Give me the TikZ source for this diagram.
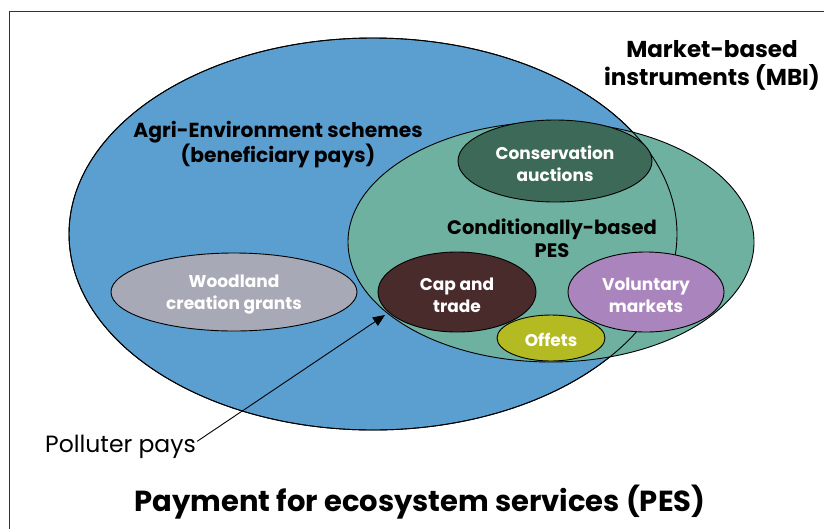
\documentclass[tikz,border=0pt]{standalone}
\usepackage{fontspec}
\setmainfont{Poppins}
\usetikzlibrary{shapes.geometric,arrows.meta}
\definecolor{aesblue}{HTML}{5B9FD0}
\definecolor{pesgreen}{HTML}{6FB1A0}
\definecolor{auctgreen}{HTML}{3D6A58}
\definecolor{woodgrey}{HTML}{A8A9B6}
\definecolor{capbrown}{HTML}{4A2B2C}
\definecolor{volpurple}{HTML}{AA84BC}
\definecolor{offolive}{HTML}{B3BA22}
\tikzset{
  region/.style={ellipse, draw=black, line width=0.9pt, inner sep=0pt},
  instrtext/.style={text=white, align=center, inner sep=0pt, font=\fontsize{17}{22}\selectfont\bfseries},
  head/.style={align=center, text=black, inner sep=0pt}
}
\begin{document}
\begin{tikzpicture}[x=1pt,y=-1pt]
\useasboundingbox (0,0) rectangle (824,528);
% frame
\draw[line width=0.9pt, draw=black!80] (9,540) -- (9,11) -- (840,11);
% outer scheme region
\node[region, fill=aesblue, minimum width=608pt, minimum height=392pt] (aes) at (373,234) {};
\node[region, fill=woodgrey, minimum width=246pt, minimum height=78pt] (wood) at (234,292) {};
% conditional PES region
\node[region, fill=pesgreen, minimum width=406pt, minimum height=240pt] (pes) at (551,242) {};
% outline of the scheme region drawn again over the PES region
\node[region, minimum width=608pt, minimum height=392pt] (aesline) at (373,234) {};
\node[region, fill=auctgreen, minimum width=194pt, minimum height=82pt] (auct) at (555,161) {};
\node[region, fill=capbrown, minimum width=158pt, minimum height=80pt] (cap) at (457,292) {};
\node[region, fill=volpurple, minimum width=156pt, minimum height=80pt] (vol) at (646,292) {};
\node[region, fill=offolive, minimum width=108pt, minimum height=46pt] (off) at (551,338) {};
% instrument labels
\node[instrtext] (woodtxt) at ([yshift=-3pt]wood.center) {Woodland\\creation grants};
\node[instrtext] (aucttxt) at ([yshift=-3pt]auct.center) {Conservation\\auctions};
\node[instrtext] (captxt) at ([yshift=-3pt]cap.center) {Cap and\\trade};
\node[instrtext] (voltxt) at ([yshift=-3pt]vol.center) {Voluntary\\markets};
\node[instrtext] (offtxt) at ([yshift=-2pt]off.center) {Offets};
% headings
\node[head, font=\fontsize{20.3}{24}\selectfont\bfseries] (aeslab) at (278,145) {Agri-Environment schemes\\(beneficiary pays)};
\node[head, font=\fontsize{19.5}{23}\selectfont\bfseries] (peslab) at (552,238) {Conditionally-based\\PES};
\node[head, font=\fontsize{23}{28}\selectfont\bfseries] (mbi) at (712,65) {Market-based\\instruments (MBI)};
\node[head, anchor=base west, font=\fontsize{23.5}{26}\selectfont] (poll) at (45,452) {Polluter pays};
\node[head, font=\fontsize{29}{34}\selectfont\bfseries] (title) at (420,502) {Payment for ecosystem services (PES)};
% arrow
\draw[line width=0.9pt, -{Triangle[length=12pt,width=10pt]}] (poll.east) ++(1,-5) coordinate (pollend) -- (385,315) coordinate (captip);
\end{tikzpicture}
\end{document}
